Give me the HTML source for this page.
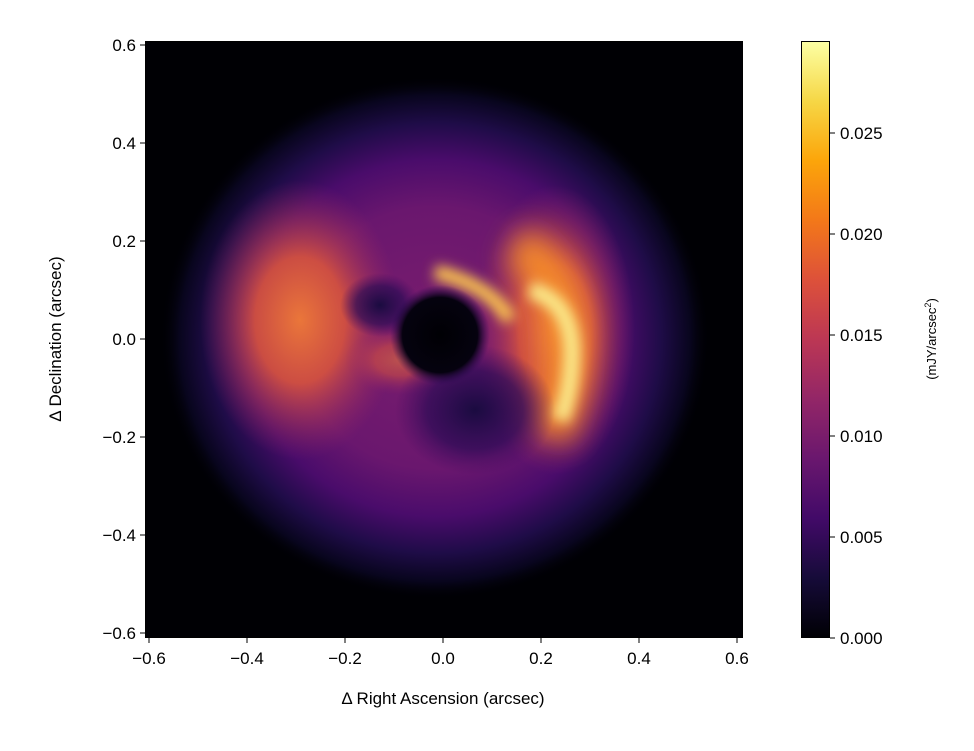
<!DOCTYPE html>
<html><head><style>
body{margin:0;background:#fff;width:974px;height:746px;overflow:hidden;font-family:"Liberation Sans","DejaVu Sans",sans-serif;}
</style></head><body>
<svg width="974" height="746" viewBox="0 0 974 746" xmlns="http://www.w3.org/2000/svg" font-family="Liberation Sans, DejaVu Sans, sans-serif" font-size="17" fill="#000">
<defs>
<clipPath id="c"><rect x="145" y="41" width="598" height="597"/></clipPath>
<filter id="b15" filterUnits="userSpaceOnUse" x="0" y="0" width="974" height="746"><feGaussianBlur stdDeviation="14"/></filter>
<filter id="b8" filterUnits="userSpaceOnUse" x="0" y="0" width="974" height="746"><feGaussianBlur stdDeviation="6"/></filter>
<radialGradient id="halo"><stop offset="0" stop-color="#7a1d6d"/><stop offset="0.5" stop-color="#6a176e"/><stop offset="0.68" stop-color="#4a0c6b"/><stop offset="0.82" stop-color="#1f0c48"/><stop offset="0.93" stop-color="#08051d"/><stop offset="1" stop-color="#000004" stop-opacity="0"/></radialGradient>
<radialGradient id="org"><stop offset="0" stop-color="#ea763a"/><stop offset="0.45" stop-color="#d8543e" stop-opacity="0.9"/><stop offset="1" stop-color="#9a2865" stop-opacity="0"/></radialGradient>
<radialGradient id="drk"><stop offset="0" stop-color="#1a0b40"/><stop offset="0.6" stop-color="#2a0b55" stop-opacity="0.7"/><stop offset="1" stop-color="#3f0a62" stop-opacity="0"/></radialGradient>
<radialGradient id="blk"><stop offset="0" stop-color="#000004"/><stop offset="0.75" stop-color="#05020f"/><stop offset="1" stop-color="#2a0b55" stop-opacity="0"/></radialGradient>
<linearGradient id="inf" x1="0" y1="1" x2="0" y2="0">
<stop offset="0" stop-color="#000004"/><stop offset="0.1" stop-color="#160b39"/>
<stop offset="0.2" stop-color="#420a68"/><stop offset="0.3" stop-color="#6a176e"/>
<stop offset="0.4" stop-color="#932667"/><stop offset="0.5" stop-color="#bc3754"/>
<stop offset="0.6" stop-color="#dd513a"/><stop offset="0.7" stop-color="#f37819"/>
<stop offset="0.8" stop-color="#fca50a"/><stop offset="0.9" stop-color="#f6d746"/>
<stop offset="1" stop-color="#fcffa4"/></linearGradient>
</defs>
<rect x="145" y="41" width="598" height="597" fill="#000004"/>
<g clip-path="url(#c)">
<ellipse cx="435" cy="338" rx="275" ry="262" fill="url(#halo)"/>
<ellipse cx="300" cy="320" rx="100" ry="140" fill="url(#org)"/>
<ellipse cx="400" cy="360" rx="55" ry="35" fill="url(#org)" opacity="0.6"/>
<ellipse cx="555" cy="330" rx="80" ry="145" fill="url(#org)"/>
<path d="M515 245 Q565 275 567 340 Q567 400 550 435" stroke="#f48a2a" stroke-width="40" fill="none" filter="url(#b15)"/>
<path d="M435 272 Q490 285 510 320" stroke="#f8c050" stroke-width="15" fill="none" filter="url(#b8)"/>
<path d="M530 290 Q570 300 572 350 Q572 390 560 420" stroke="#fae888" stroke-width="17" fill="none" filter="url(#b8)"/>
<ellipse cx="475" cy="410" rx="80" ry="65" fill="url(#drk)"/>
<ellipse cx="380" cy="305" rx="40" ry="32" fill="url(#drk)"/>
<circle cx="440" cy="335" r="50" fill="url(#blk)"/>
</g>
<g stroke="#000" stroke-width="1" fill="none">
<rect x="145.5" y="41.5" width="597" height="596"/>
<rect x="801.5" y="41.5" width="28" height="596" fill="url(#inf)"/>
</g>
<g stroke="#000">
<line x1="149" y1="638" x2="149" y2="643"/><line x1="247" y1="638" x2="247" y2="643"/><line x1="345" y1="638" x2="345" y2="643"/><line x1="443" y1="638" x2="443" y2="643"/><line x1="541" y1="638" x2="541" y2="643"/><line x1="639" y1="638" x2="639" y2="643"/><line x1="737" y1="638" x2="737" y2="643"/>
<line x1="140" y1="45" x2="145" y2="45"/><line x1="140" y1="143" x2="145" y2="143"/><line x1="140" y1="241" x2="145" y2="241"/><line x1="140" y1="339" x2="145" y2="339"/><line x1="140" y1="437" x2="145" y2="437"/><line x1="140" y1="535" x2="145" y2="535"/><line x1="140" y1="633" x2="145" y2="633"/>
<line x1="830" y1="638" x2="835" y2="638"/><line x1="830" y1="537" x2="835" y2="537"/><line x1="830" y1="436" x2="835" y2="436"/><line x1="830" y1="335" x2="835" y2="335"/><line x1="830" y1="234" x2="835" y2="234"/><line x1="830" y1="133" x2="835" y2="133"/>
</g>
<g text-anchor="middle">
<text x="149" y="664">−0.6</text><text x="247" y="664">−0.4</text><text x="345" y="664">−0.2</text><text x="443" y="664">0.0</text><text x="541" y="664">0.2</text><text x="639" y="664">0.4</text><text x="737" y="664">0.6</text>
<text x="443" y="704">Δ Right Ascension (arcsec)</text>
</g>
<g text-anchor="end">
<text x="136" y="51">0.6</text><text x="136" y="149">0.4</text><text x="136" y="247">0.2</text><text x="136" y="345">0.0</text><text x="136" y="443">−0.2</text><text x="136" y="541">−0.4</text><text x="136" y="639">−0.6</text>
</g>
<text transform="translate(61 339) rotate(-90)" text-anchor="middle">Δ Declination (arcsec)</text>
<g>
<text x="840" y="644">0.000</text><text x="840" y="543">0.005</text><text x="840" y="442">0.010</text><text x="840" y="341">0.015</text><text x="840" y="240">0.020</text><text x="840" y="139">0.025</text>
</g>
<text transform="translate(936 339) rotate(-90)" text-anchor="middle" font-size="13">(mJY/arcsec<tspan dy="-5" font-size="9">2</tspan><tspan dy="5">)</tspan></text>
</svg>
</body></html>
